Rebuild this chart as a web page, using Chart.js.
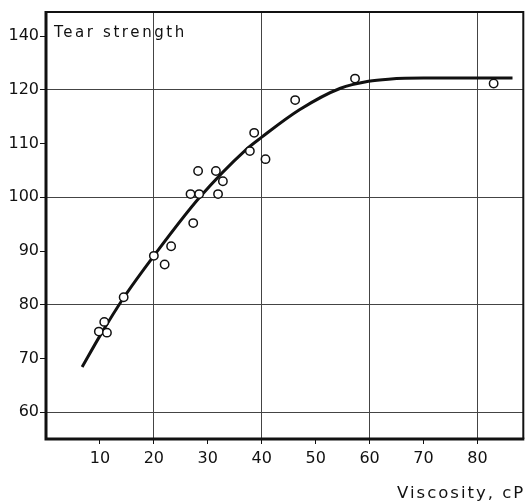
<!DOCTYPE html>
<html>
<head>
<meta charset="utf-8">
<script src="https://cdn.jsdelivr.net/npm/chart.js@4.4.0/dist/chart.umd.min.js"></script>
<style>
  body { margin: 0; background: #fff; }
  #wrap { width: 529px; height: 504px; }
</style>
</head>
<body>
<div id="wrap"><canvas id="tearChart" width="529" height="504"></canvas></div>
<script>
const viscosity = [9.8, 10.8, 11.3, 14.4, 20.0, 22.0, 23.2, 26.8, 27.3, 28.2, 28.4, 31.5, 31.9, 32.8, 37.8, 38.6, 40.7, 46.2, 57.3, 83.0];
const tearStrength = [75.0, 76.8, 74.8, 81.4, 89.1, 87.5, 90.9, 100.6, 95.2, 104.9, 100.6, 104.9, 100.6, 103.0, 108.6, 112.0, 107.1, 118.1, 122.1, 121.2];

// drawn curve
const curveX = [6.7, 10, 14.4, 20, 28.5, 37, 40, 47, 54.6, 59.8, 63.5, 70, 86.5];
const curveY = [68.4, 74.2, 81.3, 89.1, 100, 108.8, 111.2, 116.3, 120.3, 121.6, 122.0, 122.2, 122.2];

// axes
const xTicks = [10, 20, 30, 40, 50, 60, 70, 80];
const yTicks = [60, 70, 80, 90, 100, 110, 120, 130];
const yTickLabels = ['60', '70', '80', '90', '100', '110', '120', '140'];
const gridEvery = 20;

const gridColor = c => (c.tick && c.tick.value % gridEvery === 0) ? '#444' : 'rgba(0,0,0,0)';

// frame + the two captions
const frameAndText = {
    id: 'frameAndText',
    afterDraw(chart) {
        const { ctx, chartArea: a } = chart;
        ctx.save();
        ctx.strokeStyle = '#111';
        ctx.lineWidth = 2;
        ctx.beginPath();
        ctx.moveTo(a.left, a.top);
        ctx.lineTo(a.right, a.top);
        ctx.lineTo(a.right, a.bottom);
        ctx.stroke();
        ctx.lineWidth = 3;
        ctx.beginPath();
        ctx.moveTo(a.left, a.top - 1);
        ctx.lineTo(a.left, a.bottom);
        ctx.lineTo(a.right + 1, a.bottom);
        ctx.stroke();

        ctx.fillStyle = '#111';
        ctx.textBaseline = 'alphabetic';
        ctx.font = '15px "DejaVu Sans"';
        ctx.letterSpacing = '2.6px';
        ctx.textAlign = 'left';
        ctx.fillText('Tear strength', a.left + 8, 37);
        ctx.font = '16.5px "DejaVu Sans"';
        ctx.letterSpacing = '2px';
        ctx.textAlign = 'right';
        ctx.fillText('Viscosity, cP', a.right + 2, 498);
        ctx.restore();
    }
};

const ctx = document.getElementById('tearChart').getContext('2d');
new Chart(ctx, {
    data: {
        datasets: [{
            type: 'scatter',
            data: viscosity.map((v, i) => ({ x: v, y: tearStrength[i] })),
            pointRadius: 4.2,
            pointBorderWidth: 1.5,
            pointBorderColor: '#111',
            pointBackgroundColor: '#fff'
        }, {
            type: 'line',
            data: curveX.map((v, i) => ({ x: v, y: curveY[i] })),
            borderColor: '#111',
            borderWidth: 3,
            pointRadius: 0,
            fill: false,
            cubicInterpolationMode: 'monotone'
        }]
    },
    plugins: [frameAndText],
    options: {
        responsive: false,
        animation: false,
        devicePixelRatio: 1,
        layout: {
            padding: { top: 12, right: 4, left: 0, bottom: 0 }
        },
        plugins: {
            legend: { display: false },
            tooltip: { enabled: false }
        },
        scales: {
            x: {
                type: 'linear',
                min: 0,
                max: 88.5,
                afterBuildTicks: s => { s.ticks = xTicks.map(v => ({ value: v })); },
                afterFit: s => { s.height = 65; },
                border: { display: false },
                grid: {
                    color: gridColor,
                    tickColor: '#111',
                    tickLength: 5,
                    lineWidth: 1
                },
                ticks: {
                    color: '#111',
                    font: { family: 'DejaVu Sans', size: 16 },
                    padding: 5,
                    maxRotation: 0,
                    autoSkip: false
                }
            },
            y: {
                type: 'linear',
                min: 55,
                max: 134.5,
                afterBuildTicks: s => { s.ticks = yTicks.map(v => ({ value: v })); },
                afterFit: s => { s.width = 46; },
                border: { display: false },
                grid: {
                    color: gridColor,
                    tickColor: '#111',
                    tickLength: 6,
                    lineWidth: 1
                },
                ticks: {
                    color: '#111',
                    font: { family: 'DejaVu Sans', size: 16 },
                    padding: 1,
                    autoSkip: false,
                    callback: v => yTickLabels[yTicks.indexOf(v)]
                }
            }
        }
    }
});
</script>
</body>
</html>
